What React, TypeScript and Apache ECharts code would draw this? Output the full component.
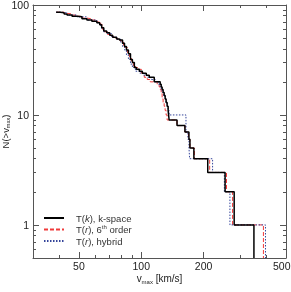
import React, { useEffect, useRef } from 'react';
import * as echarts from 'echarts';

// Tick values
const xMajorTicks = [50, 100, 200, 500];
const xMinorTicks = [40, 60, 70, 80, 90, 300, 400];
const yMajorTicks = [1, 10, 100];
const yMinorTicks = [0.6, 0.7, 0.8, 0.9, 2, 3, 4, 5, 6, 7, 8, 9, 20, 30, 40, 50, 60, 70, 80, 90];

// Axis ranges
const xRange = [30, 500];
const yRange = [0.5, 100];

// Series names
const seriesNames = ['T(k), k-space', 'T(r), 6th order', 'T(r), hybrid'];

// T(k), k-space  (v_max in km/s, cumulative N(>v_max))
const kspaceV = [38.8, 40.6, 42.4, 43.8, 46.3, 48.9, 51.7, 54.6, 57.7, 61.0, 63.0, 64.4, 65.9, 68.1, 70.4, 72.7, 76.0, 78.5, 81.2, 83.0, 84.8, 86.7, 88.7, 90.6, 92.6, 94.7, 97.9, 101.2, 105.7, 109.3, 115.5, 123.4, 124.8, 126.1, 127.5, 129.0, 130.4, 131.8, 133.3, 134.8, 135.5, 136.3, 148.8, 162.5, 169.9, 171.8, 179.5, 209.4, 254, 281, 350];
const kspaceN = [86, 85, 83, 81, 79, 78, 75, 73, 71, 69, 66, 62, 58, 56, 53, 51, 49, 48, 45, 42, 39, 36, 32, 30, 27, 26, 25, 24, 23, 22, 20, 19, 18, 17, 16, 15, 14, 13, 12, 11, 10, 9, 8, 7, 6, 5, 4, 3, 2, 1, 0.5];

// T(r), 6th order
const sixthV = [38.8, 40.6, 42.4, 43.8, 46.3, 48.9, 51.7, 54.6, 57.7, 61.0, 63.7, 65.1, 66.6, 68.8, 71.1, 73.5, 76.8, 79.4, 82.1, 83.9, 85.8, 87.7, 89.6, 91.6, 93.7, 96.8, 100.1, 103.4, 106.9, 110.5, 119.4, 122.0, 123.4, 124.8, 126.1, 127.5, 129.0, 130.4, 131.8, 133.3, 148.8, 162.5, 169.0, 171.8, 180.5, 214, 258, 276, 389];
const sixthN = [86, 86, 84, 83, 81, 79, 76, 75, 73, 70, 66, 60, 57, 54, 52, 50, 48, 47, 43, 41, 37, 34, 31, 28, 27, 26, 24, 22, 21, 20, 19, 18, 17, 16, 14, 13, 12, 11, 10, 9, 8, 7, 6, 5, 4, 3, 2, 1, 0.5];

// T(r), hybrid
const hybridV = [38.8, 40.6, 43.8, 48.9, 54.6, 61.0, 63.0, 64.4, 65.9, 68.1, 71.9, 76.0, 79.4, 81.2, 83.0, 84.8, 86.7, 88.7, 90.6, 93.7, 97.9, 102.3, 106.9, 111.7, 116.8, 120.7, 123.4, 124.8, 126.1, 128.2, 130.4, 131.8, 133.3, 134.8, 136.3, 164.4, 168.0, 170.0, 171.2, 221, 252, 268, 398];
const hybridN = [86, 85, 81, 78, 73, 69, 65, 61, 57, 55, 51, 49, 46, 42, 39, 35, 32, 29, 27, 25, 24, 23, 22, 21, 20, 19, 18, 17, 16, 15, 14, 13, 12, 11, 10, 7, 6, 5, 4, 3, 2, 1, 0.5];

const FONT = '"Liberation Sans", Arial, Helvetica, sans-serif';
const AXIS_COLOR = '#555';
const TEXT_COLOR = '#222';
const L = Math.log10;

// both axes are logarithmic: values are placed on value axes in log10 space
function pairs(v: number[], n: number[]) {
  return v.map((x, i) => [L(x), L(n[i])]);
}

export default function App() {
  const ref = useRef<HTMLDivElement>(null);
  useEffect(() => {
    if (!ref.current) return;
    const chart = echarts.init(ref.current, undefined, { renderer: 'svg' });
    const tickLine = { color: AXIS_COLOR, width: 1 };
    const labelStyle = { fontFamily: FONT, fontSize: 10.5, color: TEXT_COLOR };
    const xBase = { type: 'value', min: L(xRange[0]), max: L(xRange[1]), splitLine: { show: false }, gridIndex: 0 };
    const yBase = { type: 'value', min: L(yRange[0]), max: L(yRange[1]), splitLine: { show: false }, gridIndex: 0 };
    const fmt = (v: number) => String(Math.round(Math.pow(10, v)));

    const option: any = {
      animation: false,
      grid: { left: 33, right: 5, top: 5, bottom: 34, containLabel: false, outerBoundsMode: 'none' },
      legend: {
        data: seriesNames,
        orient: 'vertical',
        left: 43,
        top: 212.5,
        padding: 0,
        itemWidth: 20,
        itemHeight: 11,
        itemGap: 0.5,
        itemStyle: { opacity: 0, borderWidth: 0 },
        formatter: (name: string) => {
          if (name === seriesNames[0]) return 'T({i|k}), k-space';
          if (name === seriesNames[1]) return 'T({i|r}), 6{sup|th} order';
          return 'T({i|r}), hybrid';
        },
        textStyle: {
          fontFamily: FONT,
          fontSize: 9.5,
          color: '#333',
          lineHeight: 11,
          padding: [0, 0, 0, 7],
          rich: {
            i: { fontFamily: FONT, fontSize: 9.5, fontStyle: 'italic', color: '#333', lineHeight: 11 },
            sup: { fontFamily: FONT, fontSize: 6, color: '#333', verticalAlign: 'top', lineHeight: 7 },
          },
        },
      },
      xAxis: [
        {
          ...xBase,
          position: 'bottom',
          axisLine: { show: true, onZero: false, lineStyle: tickLine },
          axisTick: { show: true, inside: true, length: 6, customValues: xMajorTicks.map(L), lineStyle: tickLine },
          axisLabel: { show: false },
          name: 'v{sub|max} [km/s]',
          nameLocation: 'middle',
          nameGap: 14,
          nameMoveOverlap: false,
          nameTextStyle: {
            fontFamily: FONT, fontSize: 10, color: TEXT_COLOR, lineHeight: 13,
            rich: { sub: { fontFamily: FONT, fontSize: 6, color: TEXT_COLOR, verticalAlign: 'bottom', lineHeight: 8 } },
          },
        },
        {
          ...xBase,
          position: 'bottom',
          axisLine: { show: false, onZero: false },
          axisTick: { show: true, inside: true, length: 3, customValues: xMinorTicks.map(L), lineStyle: tickLine },
          axisLabel: { show: false },
        },
        {
          ...xBase,
          position: 'top',
          axisLine: { show: true, onZero: false, lineStyle: tickLine },
          axisTick: { show: true, inside: true, length: 6, customValues: xMajorTicks.map(L), lineStyle: tickLine },
          axisLabel: { show: false },
        },
        {
          ...xBase,
          position: 'top',
          axisLine: { show: false, onZero: false },
          axisTick: { show: true, inside: true, length: 3, customValues: xMinorTicks.map(L), lineStyle: tickLine },
          axisLabel: { show: false },
        },
      ],
      yAxis: [
        {
          ...yBase,
          position: 'left',
          axisLine: { show: true, onZero: false, lineStyle: tickLine },
          axisTick: { show: true, inside: true, length: 6, customValues: yMajorTicks.map(L), lineStyle: tickLine },
          axisLabel: { show: true, customValues: yMajorTicks.map(L), formatter: fmt, margin: 4, ...labelStyle },
          name: 'N(>v{sub|max})',
          nameLocation: 'middle',
          nameRotate: 90,
          nameGap: 22,
          nameMoveOverlap: false,
          nameTextStyle: {
            fontFamily: FONT, fontSize: 9.5, color: TEXT_COLOR, lineHeight: 12,
            rich: { sub: { fontFamily: FONT, fontSize: 5.5, color: TEXT_COLOR, verticalAlign: 'bottom', lineHeight: 7 } },
          },
        },
        {
          ...yBase,
          position: 'left',
          axisLine: { show: false, onZero: false },
          axisTick: { show: true, inside: true, length: 3, customValues: yMinorTicks.map(L), lineStyle: tickLine },
          axisLabel: { show: false },
        },
        {
          ...yBase,
          position: 'right',
          axisLine: { show: true, onZero: false, lineStyle: tickLine },
          axisTick: { show: true, inside: true, length: 6, customValues: yMajorTicks.map(L), lineStyle: tickLine },
          axisLabel: { show: false },
        },
        {
          ...yBase,
          position: 'right',
          axisLine: { show: false, onZero: false },
          axisTick: { show: true, inside: true, length: 3, customValues: yMinorTicks.map(L), lineStyle: tickLine },
          axisLabel: { show: false },
        },
      ],
      series: [
        {
          name: seriesNames[1], type: 'line', xAxisIndex: 0, yAxisIndex: 0, step: 'end',
          symbol: 'none', data: pairs(sixthV, sixthN),
          lineStyle: { color: '#f03a3a', width: 1, type: [4, 2] }, itemStyle: { color: '#f03a3a' },
        },
        {
          name: seriesNames[2], type: 'line', xAxisIndex: 0, yAxisIndex: 0, step: 'end',
          symbol: 'none', data: pairs(hybridV, hybridN),
          lineStyle: { color: '#34449a', width: 1, type: [1.5, 1.5] }, itemStyle: { color: '#34449a' },
        },
        {
          name: seriesNames[0], type: 'line', xAxisIndex: 0, yAxisIndex: 0, step: 'end',
          symbol: 'none', data: pairs(kspaceV, kspaceN),
          lineStyle: { color: '#000', width: 1.5, type: 'solid' }, itemStyle: { color: '#000' },
        },
      ],
    };
    chart.setOption(option);

    // x tick labels placed through the x axis scale
    const chartW = chart.getWidth();
    const baseY = chart.convertToPixel({ yAxisIndex: 0 } as any, L(yRange[0])) as unknown as number;
    const graphics = xMajorTicks.map((v) => {
      const px = chart.convertToPixel({ xAxisIndex: 0 } as any, L(v)) as unknown as number;
      const text = String(v);
      const halfW = (text.length * 5.84) / 2;
      const x = Math.min(px, chartW - halfW - 0.5);
      return {
        type: 'text',
        x,
        y: baseY + 2,
        silent: true,
        style: {
          text,
          fontFamily: FONT,
          fontSize: 10.5,
          fill: TEXT_COLOR,
          align: 'center',
          verticalAlign: 'top',
        },
      };
    });
    chart.setOption({ graphic: graphics });
    return () => chart.dispose();
  }, []);
  return <div ref={ref} style={{ position: 'fixed', left: 0, top: 0, width: 291, height: 292 }} />;
}
